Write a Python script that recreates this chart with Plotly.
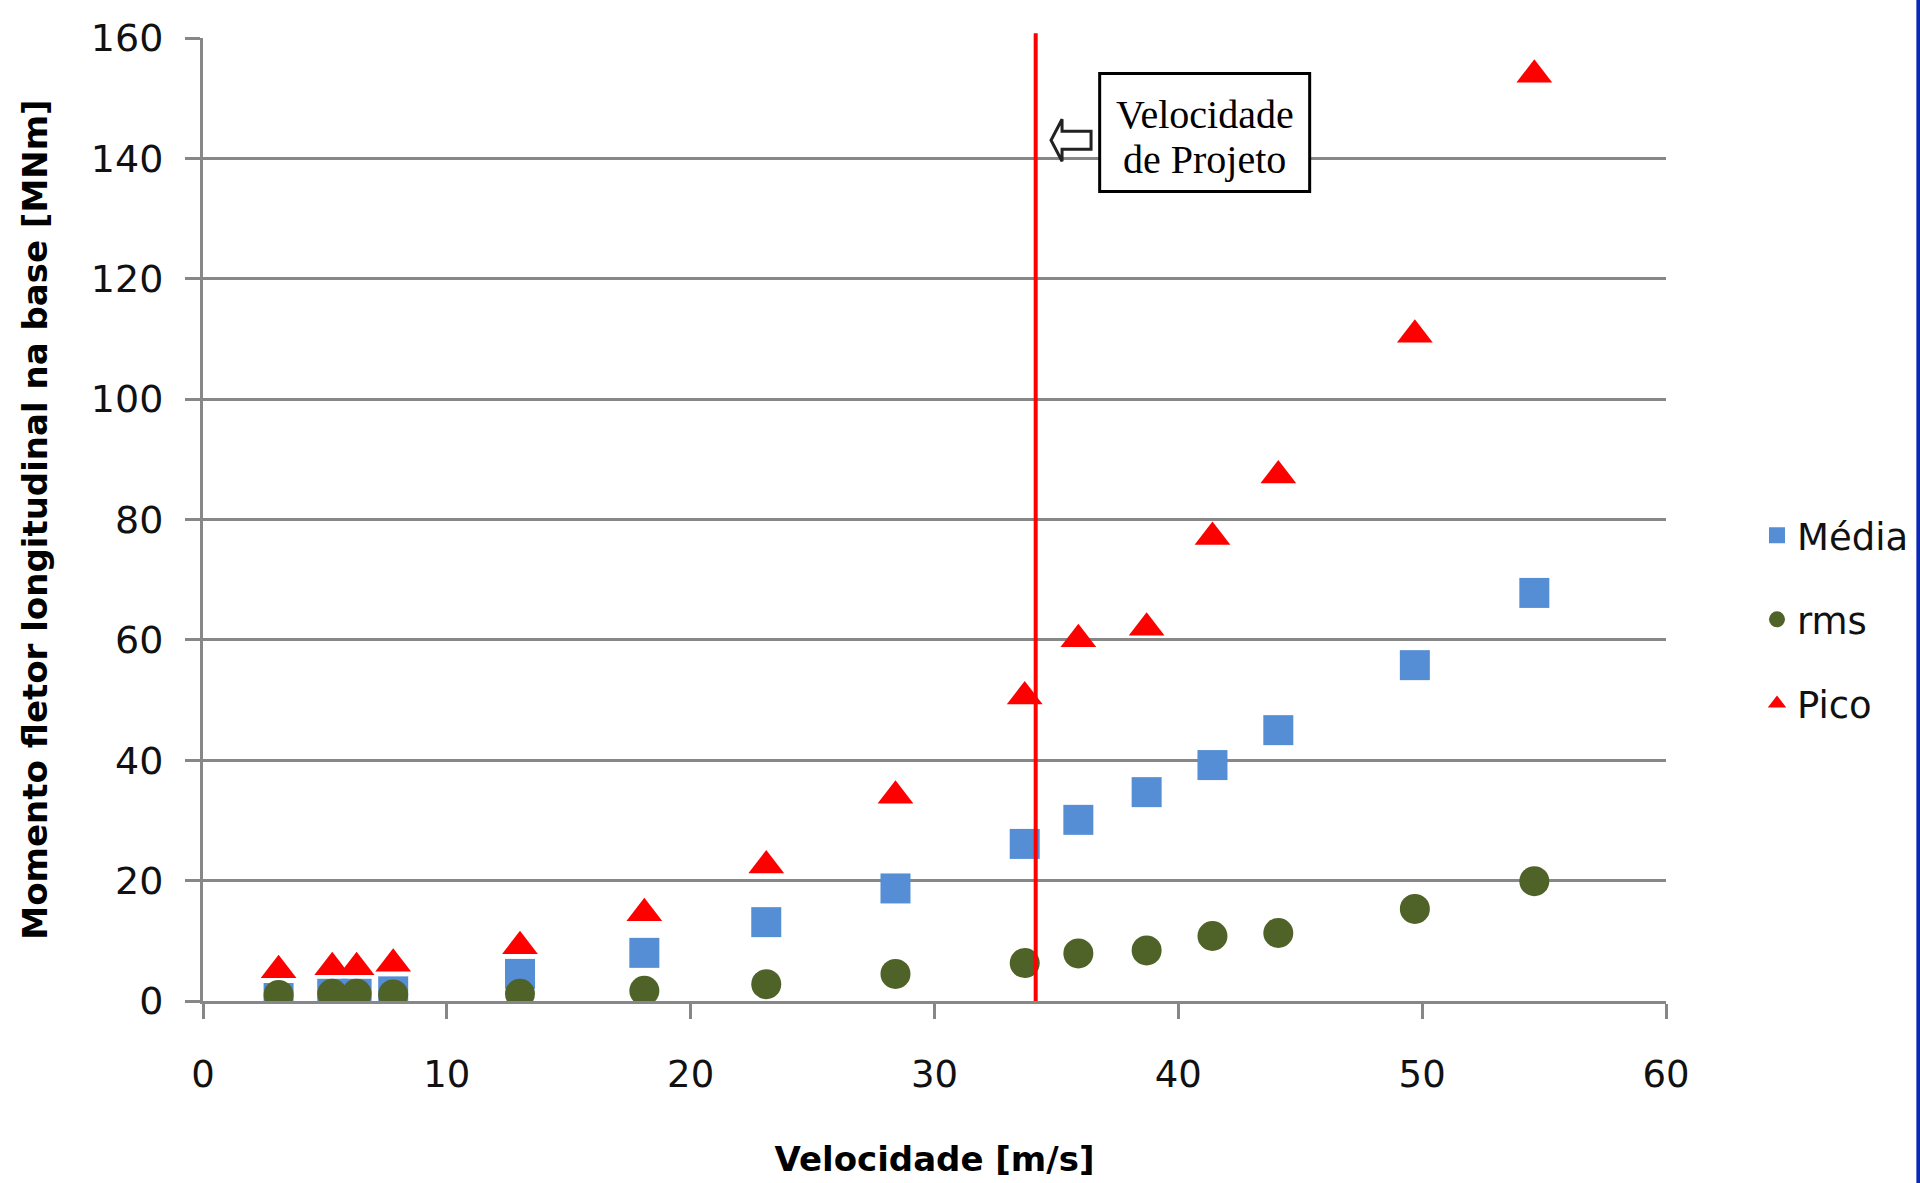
import plotly.graph_objects as go

# ---- data ----
velocidade = [3.1, 5.3, 6.3, 7.8, 13.0, 18.1, 23.1, 28.4, 33.7, 35.9, 38.7, 41.4, 44.1, 49.7, 54.6]
media = [0.5, 1.2, 1.2, 1.6, 4.5, 8.0, 13.1, 18.7, 26.1, 30.1, 34.7, 39.2, 45.0, 55.8, 67.8]
rms = [1.0, 1.2, 1.2, 1.1, 1.2, 1.7, 2.8, 4.5, 6.3, 7.9, 8.4, 10.8, 11.3, 15.3, 19.9]
pico = [5.1, 5.6, 5.6, 6.2, 9.1, 14.6, 22.5, 34.1, 50.6, 60.1, 62.0, 77.1, 87.3, 110.7, 153.9]
velocidade_projeto = 34.15

serie_nomes = ["Média", "rms", "Pico"]
x_title = "Velocidade [m/s]"
y_title = "Momento fletor longitudinal na base [MNm]"
anotacao_linhas = ["Velocidade", "de Projeto"]

COL_MEDIA = "#558ED5"
COL_RMS = "#4F6228"
COL_PICO = "#FF0000"
GRID = "#878787"
TXT = "#111111"

fig = go.Figure()
fig.add_trace(go.Scatter(x=velocidade, y=media, mode="markers", name=serie_nomes[0],
                         legendgroup="a",
                         marker=dict(symbol="square", size=30, color=COL_MEDIA, line=dict(width=0))))
fig.add_trace(go.Scatter(x=velocidade, y=rms, mode="markers", name=serie_nomes[1],
                         legendgroup="b",
                         marker=dict(symbol="circle", size=30, color=COL_RMS, line=dict(width=0))))
fig.add_trace(go.Scatter(x=velocidade, y=pico, mode="markers", name=serie_nomes[2],
                         legendgroup="c",
                         marker=dict(symbol="triangle-up", size=31, color=COL_PICO, line=dict(width=0))))

# design-speed vertical line
fig.add_shape(type="line", xref="x", yref="paper", x0=velocidade_projeto, x1=velocidade_projeto,
              y0=0, y1=1.005, line=dict(color="#FF0000", width=4), layer="above")

# hollow left arrow next to the line
fig.add_shape(type="path", xref="x", yref="y", xsizemode="pixel", ysizemode="pixel",
              xanchor=35.6, yanchor=143.0,
              path="M -20,0 L -9,21 L -9,9 L 20,9 L 20,-9 L -9,-9 L -9,-21 Z",
              line=dict(color="#222222", width=3), fillcolor="white", layer="above")

# boxed label "Velocidade de Projeto"
box_x, box_y = 41.08, 144.3
fig.add_shape(type="rect", xref="x", yref="y", xsizemode="pixel", ysizemode="pixel",
              xanchor=box_x, yanchor=box_y, x0=-105, x1=105, y0=-59, y1=59,
              line=dict(color="black", width=3), fillcolor="white", layer="above")
for txt, shift in zip(anotacao_linhas, [18, -27]):
    fig.add_annotation(x=box_x, y=box_y, xref="x", yref="y", text=txt, showarrow=False,
                       yshift=shift,
                       font=dict(family="Liberation Serif", size=40, color="black"))

# blue border at the right edge of the picture
fig.add_shape(type="line", xref="paper", yref="paper", x0=1.1725, x1=1.1725, y0=-0.3, y1=1.1,
              line=dict(color="#0A28B8", width=4))

fig.update_layout(
    width=1920, height=1183,
    margin=dict(l=203, r=254, t=38, b=182, pad=0, autoexpand=False),
    paper_bgcolor="white", plot_bgcolor="white",
    font=dict(family="DejaVu Sans", color=TXT),
    showlegend=True,
    legend=dict(xref="container", yref="container", x=0.9151, y=0.4762,
                xanchor="left", yanchor="middle",
                font=dict(family="DejaVu Sans", size=37, color=TXT),
                tracegroupgap=33, itemsizing="trace", bgcolor="rgba(0,0,0,0)"),
)

fig.update_xaxes(range=[0, 60], dtick=10, tick0=0, showgrid=False, zeroline=False,
                 showline=True, linecolor=GRID, linewidth=3,
                 ticks="outside", ticklen=15, tickwidth=3, tickcolor=GRID,
                 ticklabelstandoff=24,
                 tickfont=dict(family="DejaVu Sans", size=37, color=TXT),
                 title=dict(text=x_title, standoff=52,
                            font=dict(family="DejaVu Sans", size=34, color="black", weight="bold")))
fig.update_yaxes(range=[0, 160], dtick=20, tick0=0, showgrid=True, gridcolor=GRID, gridwidth=3,
                 zeroline=False, showline=True, linecolor=GRID, linewidth=3,
                 ticks="outside", ticklen=15, tickwidth=3, tickcolor=GRID,
                 ticklabelstandoff=14,
                 tickfont=dict(family="DejaVu Sans", size=38, color=TXT),
                 title=dict(text=y_title, standoff=33,
                            font=dict(family="DejaVu Sans", size=34, color="black", weight="bold")))

fig.write_html("out.html")
